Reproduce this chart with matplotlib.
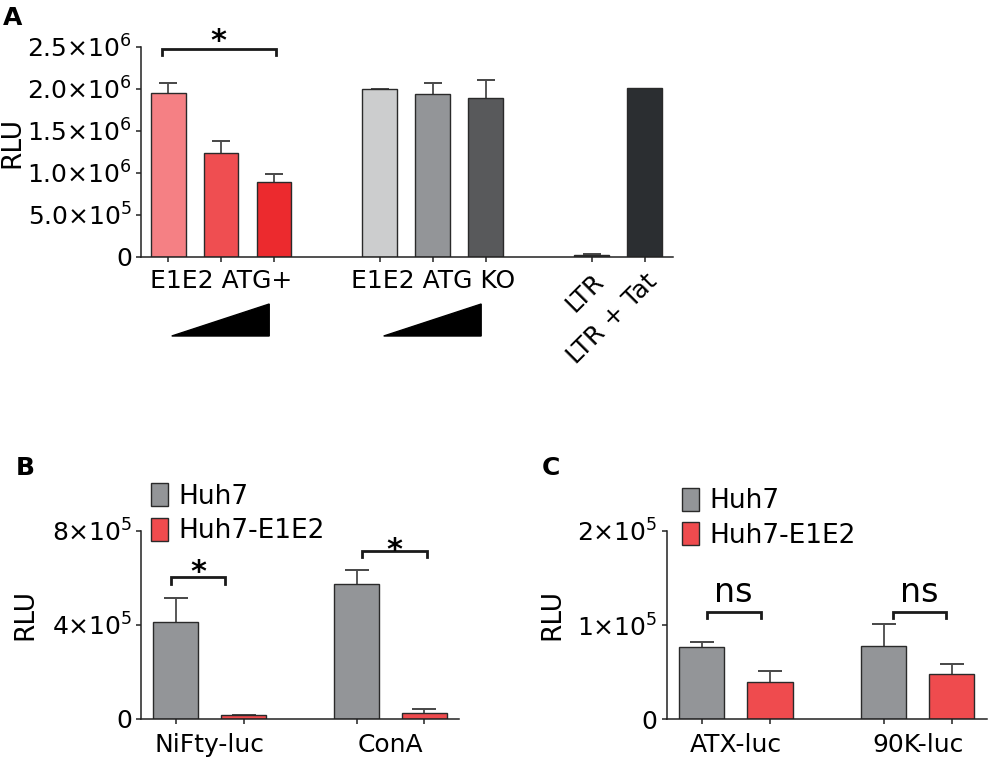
import numpy as np
import matplotlib
matplotlib.use("Agg")
import matplotlib.pyplot as plt
from matplotlib.patches import Patch, Polygon
import matplotlib.transforms as mtransforms

plt.rcParams['font.family'] = ['DejaVu Sans']
plt.rcParams['mathtext.fontset'] = 'dejavusans'

# ---------------- data ----------------
A_group_sizes = [3, 3, 2]
A_ticklabels = ['', 'E1E2 ATG+', '', '', 'E1E2 ATG KO', '', 'LTR', 'LTR + Tat']
A_values = [1.95e6, 1.234e6, 0.893e6, 1.996e6, 1.937e6, 1.896e6, 0.02e6, 2.008e6]
A_err = [0.12e6, 0.143e6, 0.095e6, 0.005e6, 0.131e6, 0.211e6, 0.016e6, 0.0]
A_colors = ['#F58084', '#EF4E51', '#EC2A2E', '#CCCDCE', '#939598', '#58595B', '#3A3C3F', '#2B2E31']
A_yticks = [0, 5e5, 1e6, 1.5e6, 2e6, 2.5e6]
A_yticklabels = ['0', r'$5.0{\times}10^{5}$', r'$1.0{\times}10^{6}$', r'$1.5{\times}10^{6}$',
                 r'$2.0{\times}10^{6}$', r'$2.5{\times}10^{6}$']

series_names = ['Huh7', 'Huh7-E1E2']
series_colors = ['#939598', '#EF4B4E']

B_categories = ['NiFty-luc', 'ConA']
B_huh7 = [4.12e5, 5.72e5]
B_huh7_err = [1.01e5, 0.61e5]
B_e1e2 = [1.6e4, 2.4e4]
B_e1e2_err = [0.3e4, 1.7e4]
B_yticks = [0, 4e5, 8e5]
B_yticklabels = ['0', r'$4{\times}10^{5}$', r'$8{\times}10^{5}$']

C_categories = ['ATX-luc', '90K-luc']
C_huh7 = [0.765e5, 0.779e5]
C_huh7_err = [0.059e5, 0.233e5]
C_e1e2 = [0.40e5, 0.478e5]
C_e1e2_err = [0.116e5, 0.112e5]
C_yticks = [0, 1e5, 2e5]
C_yticklabels = ['0', r'$1{\times}10^{5}$', r'$2{\times}10^{5}$']

# ---------------- figure ----------------
W, H = 989, 759
fig = plt.figure(figsize=(W / 100, H / 100), dpi=100)

def axes_px(left, top, right, bottom):
    return fig.add_axes([left / W, 1 - bottom / H, (right - left) / W, (bottom - top) / H])

axA = axes_px(141, 46.7, 673, 257)
axB = axes_px(141, 530.7, 459.3, 719)
axC = axes_px(666.7, 531, 986.7, 719.3)

EDGE = '#2a2a2a'
ERRC = '#4a4a4a'
TICKFS = 18

def style(ax):
    for s in ['top', 'right']:
        ax.spines[s].set_visible(False)
    for s in ['left', 'bottom']:
        ax.spines[s].set_linewidth(1.1)
        ax.spines[s].set_color('#222222')
    ax.tick_params(axis='both', length=3.5, width=1.1, color='#222222', labelsize=TICKFS, pad=3)
    ax.tick_params(axis='x', pad=5)

def upper_errorbars(ax, x, v, e, capsize):
    x = np.asarray(x, dtype=float)
    v = np.asarray(v, dtype=float)
    e = np.asarray(e, dtype=float)
    keep = e > 0
    ax.errorbar(x[keep], v[keep] + e[keep] / 2, yerr=e[keep] / 2, fmt='none',
                ecolor=ERRC, elinewidth=1.3, capsize=0, zorder=1)
    ax.errorbar(x[keep], v[keep] + e[keep], yerr=0 * e[keep], fmt='none',
                ecolor=ERRC, elinewidth=0, capsize=capsize, capthick=1.3, zorder=1)

# ----- panel A -----
posA = []
p = 0
for g in A_group_sizes:
    for i in range(g):
        posA.append(p)
        p += 1
    p += 1
posA = np.array(posA, dtype=float)

axA.bar(posA, A_values, width=0.66, color=A_colors, edgecolor=EDGE, linewidth=1.0, zorder=2)
upper_errorbars(axA, posA, A_values, A_err, 6.3)
axA.set_xlim(-0.51, 9.53)
axA.set_ylim(0, 2.5e6)
axA.set_yticks(A_yticks)
axA.set_yticklabels(A_yticklabels)
axA.set_xticks(posA)
axA.set_xticklabels(A_ticklabels)
style(axA)
for lab in axA.get_xticklabels()[6:]:
    lab.set_rotation(45)
    lab.set_ha('right')
    lab.set_va('top')
    lab.set_rotation_mode('anchor')

# wedges (increasing dose)
blend = mtransforms.blended_transform_factory(axA.transData, axA.transAxes)
start = 0
for g in A_group_sizes[:2]:
    x0 = posA[start] + 0.07
    x1 = posA[start + g - 1] - 0.09
    tri = Polygon([(x0, -0.3757), (x1, -0.2235), (x1, -0.3757)], closed=True,
                  transform=blend, facecolor='black', edgecolor='black', clip_on=False)
    axA.add_patch(tri)
    start += g

def bracket(ax, x1, x2, y, h, txt, dy_pt, fs, weight='normal'):
    ax.plot([x1, x1, x2, x2], [y - h, y, y, y - h], color='#1a1a1a', lw=2.0,
            clip_on=False, solid_joinstyle='miter', zorder=3)
    ax.annotate(txt, xy=((x1 + x2) / 2, y), xytext=(0, dy_pt), textcoords='offset points',
                ha='center', va='baseline', fontsize=fs, fontweight=weight,
                annotation_clip=False)

bracket(axA, -0.12, 2.03, 2.47e6, 0.07e6, '*', -0.5, 22, 'bold')

# ----- panels B and C -----
def grouped(ax, cats, v1, e1, v2, e2, yt, ytl, ylim):
    x = np.arange(len(cats))
    off = 0.1875
    w = 0.25
    ax.bar(x - off, v1, width=w, color=series_colors[0], edgecolor=EDGE, linewidth=1.0, zorder=2)
    ax.bar(x + off, v2, width=w, color=series_colors[1], edgecolor=EDGE, linewidth=1.0, zorder=2)
    upper_errorbars(ax, x - off, v1, e1, 8.6)
    upper_errorbars(ax, x + off, v2, e2, 8.6)
    ax.set_xlim(-0.38, 1.38)
    ax.set_ylim(*ylim)
    ax.set_yticks(yt)
    ax.set_yticklabels(ytl)
    ax.set_xticks(np.concatenate([x - off, x + off]))
    ax.set_xticklabels([''] * (2 * len(cats)))
    for xi, c in zip(x, cats):
        ax.annotate(c, xy=(xi, 0), xytext=(0, -10), textcoords='offset points',
                    ha='center', va='top', fontsize=TICKFS, annotation_clip=False)
    style(ax)
    handles = [Patch(facecolor=series_colors[0], edgecolor=EDGE, linewidth=1.0),
               Patch(facecolor=series_colors[1], edgecolor=EDGE, linewidth=1.0)]
    return handles

hB = grouped(axB, B_categories, B_huh7, B_huh7_err, B_e1e2, B_e1e2_err, B_yticks, B_yticklabels, (0, 8e5))
hC = grouped(axC, C_categories, C_huh7, C_huh7_err, C_e1e2, C_e1e2_err, C_yticks, C_yticklabels, (0, 2e5))

bracket(axB, -0.215, 0.085, 6.02e5, 0.3e5, '*', -3.0, 22, 'bold')
bracket(axB, 0.844, 1.199, 7.15e5, 0.27e5, '*', -5.8, 22, 'bold')
bracket(axC, -0.161, 0.137, 1.143e5, 0.067e5, 'ns', 7.2, 24)
bracket(axC, 0.864, 1.158, 1.143e5, 0.067e5, 'ns', 7.2, 24)

for ax, hnd, lx, ly in [(axB, hB, 150.7, 483), (axC, hC, 681.7, 487.5)]:
    fig.legend(hnd, series_names, loc='upper left', bbox_to_anchor=(lx / W, 1 - ly / H),
               bbox_transform=fig.transFigure, frameon=False, fontsize=19,
               handlelength=0.64, handleheight=0.98, handletextpad=0.42,
               labelspacing=0.3, borderpad=0, borderaxespad=0)

# axis titles
for (x, y) in [(12, 143), (25, 615), (552, 615)]:
    fig.text(x / W, 1 - y / H, 'RLU', rotation=90, ha='center', va='center', fontsize=19)

# panel letters
for (x, y, t) in [(3, 25, 'A'), (16, 475, 'B'), (542, 475, 'C')]:
    fig.text(x / W, 1 - y / H, t, ha='left', va='baseline', fontsize=18, fontweight='bold')

fig.savefig('out.png', dpi=100)
